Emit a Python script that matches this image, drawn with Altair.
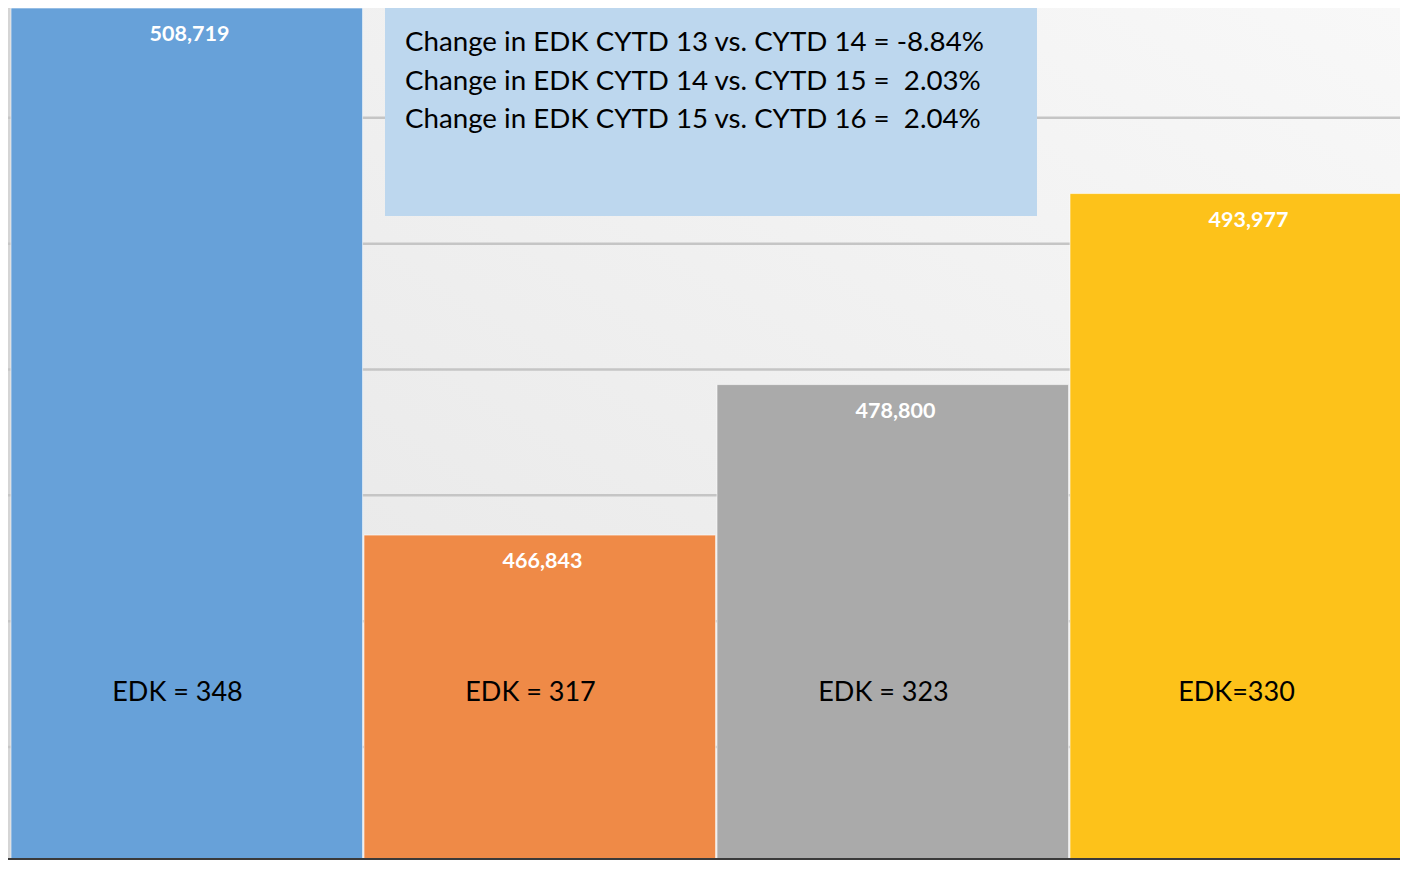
import altair as alt
import pandas as pd

# ---- data ----
years = ["CYTD 13", "CYTD 14", "CYTD 15", "CYTD 16"]
values = [508719, 466843, 478800, 493977]
edk_labels = ["EDK = 348", "EDK = 317", "EDK = 323", "EDK=330"]
colors = ["#67a1d9", "#ef8a47", "#aaaaaa", "#fdc21a"]
gridlines = [450000, 460000, 470000, 480000, 490000, 500000]
box_lines = [
    "Change in EDK CYTD 13 vs. CYTD 14 = -8.84%",
    "Change in EDK CYTD 14 vs. CYTD 15 =\u00a0 2.03%",
    "Change in EDK CYTD 15 vs. CYTD 16 =\u00a0 2.04%",
]

W, H = 1392, 852
FONT = "Lato"

df = pd.DataFrame({"year": years, "value": values, "edk": edk_labels,
                   "idx": list(range(len(years)))})
one = pd.DataFrame({"k": [0]})
grid_df = pd.DataFrame({"g": gridlines})

xs = alt.Scale(domain=[-3 / 353, 1389 / 353], nice=False, zero=False)
ys = alt.Scale(domain=[441031, 508720], nice=False, zero=False)

bg = alt.Chart(one).mark_rect(
    fill=alt.LinearGradient(
        gradient="linear", x1=1, y1=0, x2=0, y2=1,
        stops=[alt.GradientStop(offset=0, color="#f8f8f8"),
               alt.GradientStop(offset=1, color="#e4e4e4")],
    )
).encode(x=alt.value(0), x2=alt.value(W), y=alt.value(0), y2=alt.value(H))

strip = alt.Chart(one).mark_rect(fill="#d5d5d5").encode(
    x=alt.value(0), x2=alt.value(3), y=alt.value(0), y2=alt.value(H))

grid = alt.Chart(grid_df).mark_rule(color="#c5c5c5", strokeWidth=2.5).encode(
    y=alt.Y("g:Q", scale=ys, axis=None), x=alt.value(0), x2=alt.value(W))

bars = alt.Chart(df).transform_calculate(x_end="datum.idx + 0.996").mark_rect(
    stroke="#ffffff", strokeOpacity=0.6, strokeWidth=1
).encode(
    x=alt.X("idx:Q", scale=xs, axis=None),
    x2="x_end:Q",
    y=alt.Y("value:Q", scale=ys, axis=None),
    y2=alt.value(H),
    fill=alt.Color("year:N", scale=alt.Scale(domain=years, range=colors), legend=None),
)

vlabels = alt.Chart(df).transform_calculate(xc="datum.idx + 0.5").mark_text(
    font=FONT, fontSize=21.5, fontWeight="bold", color="white",
    baseline="middle", align="center", dy=27, dx=2
).encode(
    x=alt.X("xc:Q", scale=xs, axis=None),
    y=alt.Y("value:Q", scale=ys, axis=None),
    text=alt.Text("value:Q", format=","),
)

elabels = alt.Chart(df).transform_calculate(xc="datum.idx + 0.5").mark_text(
    font=FONT, fontSize=27, color="black",
    baseline="middle", align="center", dx=-10
).encode(
    x=alt.X("xc:Q", scale=xs, axis=None),
    y=alt.value(685),
    text="edk:N",
)

box = alt.Chart(one).mark_rect(fill="#bdd7ee").encode(
    x=alt.value(377), x2=alt.value(1029), y=alt.value(0), y2=alt.value(208))

box_text = alt.Chart(one).mark_text(
    font=FONT, fontSize=27.7, color="black", align="left",
    baseline="alphabetic", lineHeight=38.5, text=box_lines
).encode(x=alt.value(397), y=alt.value(43))

bottom = alt.Chart(one).mark_rule(color="#3a3a3a", strokeWidth=2).encode(
    x=alt.value(0), x2=alt.value(W), y=alt.value(H - 1))

chart = alt.layer(bg, strip, grid, bars, vlabels, elabels, box, box_text, bottom).properties(
    width=W, height=H, padding=0,
    autosize=alt.AutoSizeParams(type="none"),
).configure_view(stroke=None)

chart.save("out.html", embed_options={"renderer": "svg", "actions": False})
